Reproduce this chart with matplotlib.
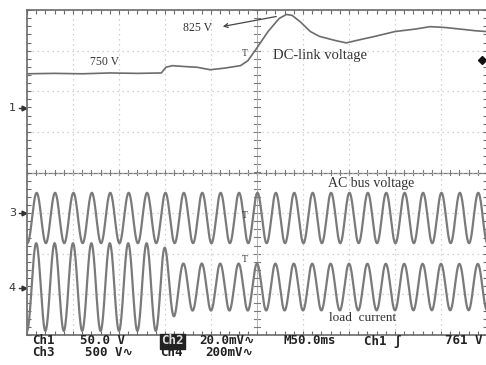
import numpy as np
import matplotlib
matplotlib.use("Agg")
import matplotlib.pyplot as plt
from matplotlib.ticker import MultipleLocator

# ---------------- data ----------------
# Ch1: DC-link voltage, time in ms, value in volts
dc_time = [-250, -220, -190, -160, -130, -104, -99, -92, -80, -65, -51, -35,
           -18, -10, 0, 12, 24, 32, 38, 47, 58, 68, 85, 97, 112, 128, 150,
           172, 188, 204, 221, 237, 249]
dc_volt = [750, 750.5, 750, 751, 750.5, 751, 758, 760, 759, 758, 755, 757,
           760, 766, 782, 802, 818, 823, 822, 814, 802, 796, 791, 788, 792,
           796, 802, 805, 808, 807, 805, 803, 802]
dc_ref_volt = 750          # volts shown at dc_ref_div
dc_ref_div = 2.43          # screen division of the 750 V level
ch1_volts_per_div = 50.0

# Ch3: AC bus voltage (sinusoid)
ac_freq_hz = 50.0
ac_amp_div = 0.62
ac_center_div = -1.12
ac_first_peak_ms = -239.5

# Ch4: load current (sinusoid with amplitude step)
load_freq_hz = 50.0
load_center_div = -2.82
load_first_peak_ms = -240.0
load_env_time = [-250, -104, -96, -84, 250]
load_env_amp = [1.08, 1.08, 0.85, 0.58, 0.57]

# channel markers (division)
ch_marker_labels = ["1", "3", "4"]
ch_marker_div = [1.59, -1.0, -2.84]

# status bar text
status_row1 = [("Ch1", 32), ("50.0 V", 80), ("20.0mV\u223f", 199),
               ("M50.0ms", 283), ("Ch1 \u0283", 364), ("761 V", 445)]
status_row2 = [("Ch3", 32), ("500 V\u223f", 85), ("Ch4", 160),
               ("200mV\u223f", 205)]

# ---------------- figure ----------------
W, H = 486, 365
fig = plt.figure(figsize=(W / 100, H / 100), dpi=100, facecolor="white")

def fx(x):
    return x / W

def fy(y):
    return 1 - y / H

left_px, top_px, bottom_px = 27, 10, 335
div_px_x = 46.0
ax = fig.add_axes([fx(left_px), fy(bottom_px), 10 * div_px_x / W,
                   (bottom_px - top_px) / H])
ax.set_xlim(-250, 250)
ax.set_ylim(-4, 4)
ax.set_facecolor("white")

border_col = "#6a6a6a"
for s in ["left", "top", "bottom", "right"]:
    ax.spines[s].set_color(border_col)
    ax.spines[s].set_linewidth(1.2)

ax.xaxis.set_major_locator(MultipleLocator(50))
ax.xaxis.set_minor_locator(MultipleLocator(10))
ax.yaxis.set_major_locator(MultipleLocator(1))
ax.yaxis.set_minor_locator(MultipleLocator(0.2))
ax.tick_params(which="both", direction="in", length=3, width=0.8,
               color=border_col, top=True, bottom=True, left=True,
               right=True, labelbottom=False, labelleft=False)
ax.grid(True, which="major", color="#c4c4c4", linestyle=(0, (1, 3)),
        linewidth=0.9)

# center crosshair with ticks
ax.axhline(0, color="#7a7a7a", lw=0.9, zorder=1)
ax.axvline(0, color="#a0a0a0", lw=0.6, zorder=1)
for xm in np.arange(-250, 251, 10):
    ax.plot([xm, xm], [-0.07, 0.07], color="#7a7a7a", lw=0.8, zorder=1)
for ym in np.arange(-4, 4.01, 0.2):
    ax.plot([-3.5, 3.5], [ym, ym], color="#7a7a7a", lw=0.8, zorder=1)

trace_col = "#6c6c6c"

# Ch1 DC-link
dc_div = dc_ref_div + (np.array(dc_volt) - dc_ref_volt) / ch1_volts_per_div
ax.plot(dc_time, dc_div, color=trace_col, lw=1.2, zorder=3)

# Ch3 AC bus voltage
t = np.linspace(-250, 250, 3000)
ac = ac_center_div + ac_amp_div * np.cos(
    2 * np.pi * ac_freq_hz * (t - ac_first_peak_ms) / 1000.0)
ax.plot(t, ac, color="#7a7a7a", lw=1.6, zorder=3)

# Ch4 load current
env = np.interp(t, load_env_time, load_env_amp)
ld = load_center_div + env * np.cos(
    2 * np.pi * load_freq_hz * (t - load_first_peak_ms) / 1000.0)
ax.plot(t, ld, color="#7a7a7a", lw=1.6, zorder=3)

# channel markers on the left
for lab, yd in zip(ch_marker_labels, ch_marker_div):
    ax.text(-266, yd, lab, ha="center", va="center", fontsize=8,
            family="DejaVu Sans", color="#333333", clip_on=False)
    ax.plot([-259, -252], [yd, yd], color="#333333", lw=1.0, clip_on=False)
    ax.plot(-253, yd, marker=">", ms=3.5, color="#333333", clip_on=False)

# trigger level marker on right
ax.plot(244.5, 2.77, marker="D", ms=4, color="#111111", clip_on=False,
        zorder=5)

# annotations
serif = ["Liberation Serif", "DejaVu Serif"]
fig.text(fx(105), fy(62), "750 V", ha="center", va="center", fontsize=8.5,
         family=serif, color="#333333")
fig.text(fx(198), fy(28), "825 V", ha="center", va="center", fontsize=8.5,
         family=serif, color="#333333")
fig.add_artist(matplotlib.patches.FancyArrowPatch(
    (fx(279), fy(16)), (fx(220), fy(27)), transform=fig.transFigure,
    arrowstyle="->", mutation_scale=7, lw=0.9, color="#444444"))
fig.text(fx(320), fy(55), "DC-link voltage", ha="center", va="center",
         fontsize=10.5, family=serif, color="#333333")
fig.text(fx(371), fy(183), "AC bus voltage", ha="center", va="center",
         fontsize=10, family=serif, color="#333333")
fig.text(fx(363), fy(318), "load  current", ha="center", va="center",
         fontsize=9.5, family=serif, color="#333333")
for yy in [53, 216, 259]:
    fig.text(fx(245), fy(yy), "T", ha="center", va="center", fontsize=7,
             family=serif, color="#333333")

# status bar
mono = ["DejaVu Sans Mono", "DejaVu Sans", "Noto Sans", "Noto Sans CJK JP",
        "Liberation Sans"]
for txt, xx in status_row1:
    fig.text(fx(xx), fy(341), txt, ha="left", va="center", fontsize=9,
             family=mono, weight="bold", color="#222222")
fig.text(fx(161), fy(341), "Ch2", ha="left", va="center", fontsize=9,
         family=mono, weight="bold", color="#dddddd",
         bbox=dict(boxstyle="square,pad=0.08", fc="#222222", ec="#222222"))
for txt, xx in status_row2:
    fig.text(fx(xx), fy(353), txt, ha="left", va="center", fontsize=9,
             family=mono, weight="bold", color="#222222")

fig.savefig("out.png", dpi=100, facecolor="white")
